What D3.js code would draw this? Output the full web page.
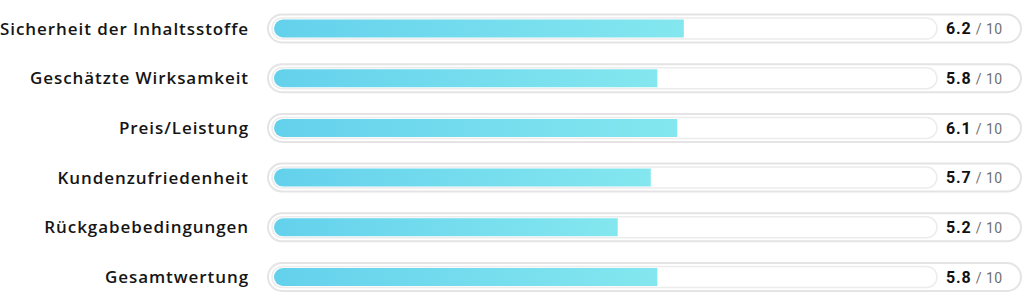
<!DOCTYPE html>
<html>
<head>
<meta charset="utf-8">
<script src="https://cdn.jsdelivr.net/npm/d3@7"></script>
<style>
  body { margin: 0; background: #fff; }
</style>
</head>
<body>
<div id="chart"></div>
<script>
// data
const categories = ["Sicherheit der Inhaltsstoffe", "Geschätzte Wirksamkeit", "Preis/Leistung", "Kundenzufriedenheit", "Rückgabebedingungen", "Gesamtwertung"];
const scores = [6.2, 5.8, 6.1, 5.7, 5.2, 5.8];
const maxScore = 10;

const w = 1024, h = 305;

const svg = d3.select("#chart").append("svg")
  .attr("width", w)
  .attr("height", h)
  .style("font-family", "Roboto, sans-serif");

const defs = svg.append("defs");
const grad = defs.append("linearGradient").attr("id", "fillGrad")
  .attr("x1", "0%").attr("x2", "100%");
grad.append("stop").attr("offset", "0%").attr("stop-color", "#64d1ec");
grad.append("stop").attr("offset", "100%").attr("stop-color", "#84e7ef");

// row centres
const y = d3.scalePoint()
  .domain(categories)
  .range([28.5, 277]);

const x = d3.scaleLinear()
  .domain([0, maxScore])
  .range([274, 935]);

const rows = svg.selectAll("g.row")
  .data(categories)
  .enter()
  .append("g")
  .attr("class", "row")
  .attr("transform", d => `translate(0,${y(d)})`);

// outer pill
rows.append("rect")
  .attr("x", 268)
  .attr("y", -14)
  .attr("width", 753)
  .attr("height", 28)
  .attr("rx", 14)
  .attr("fill", "#fff")
  .attr("stroke", "#e4e4e4")
  .attr("stroke-width", 2);

// inner track
rows.append("rect")
  .attr("x", 272)
  .attr("y", -10.5)
  .attr("width", 665)
  .attr("height", 21)
  .attr("rx", 10.5)
  .attr("fill", "#fff")
  .attr("stroke", "#ececec")
  .attr("stroke-width", 1.5);

// fill, rounded left side only
rows.append("path")
  .attr("fill", "url(#fillGrad)")
  .attr("d", (d, i) => {
    const x0 = x(0), x1 = x(scores[i]), r = 9;
    return `M${x0 + r},-9 H${x1} V9 H${x0 + r} A${r},${r} 0 0 1 ${x0 + r},-9 Z`;
  });

// labels
rows.append("text")
  .text(d => d)
  .attr("x", 249)
  .attr("y", 0)
  .attr("dy", "0.36em")
  .attr("text-anchor", "end")
  .style("font-family", "'Open Sans', sans-serif")
  .style("font-size", "17px")
  .style("font-weight", 600)
  .style("letter-spacing", "0.93px")
  .attr("fill", "#151515");

// score text
const val = rows.append("text")
  .attr("x", 946)
  .attr("y", 0)
  .attr("dy", "0.36em");
val.append("tspan")
  .text((d, i) => scores[i].toFixed(1))
  .style("font-size", "16px")
  .style("font-weight", 700)
  .style("letter-spacing", "0.9px")
  .attr("fill", "#111");
val.append("tspan")
  .text(" / " + maxScore)
  .style("font-size", "14px")
  .style("font-weight", 400)
  .style("letter-spacing", "0.5px")
  .attr("fill", "#6f6f6f");
</script>
</body>
</html>
